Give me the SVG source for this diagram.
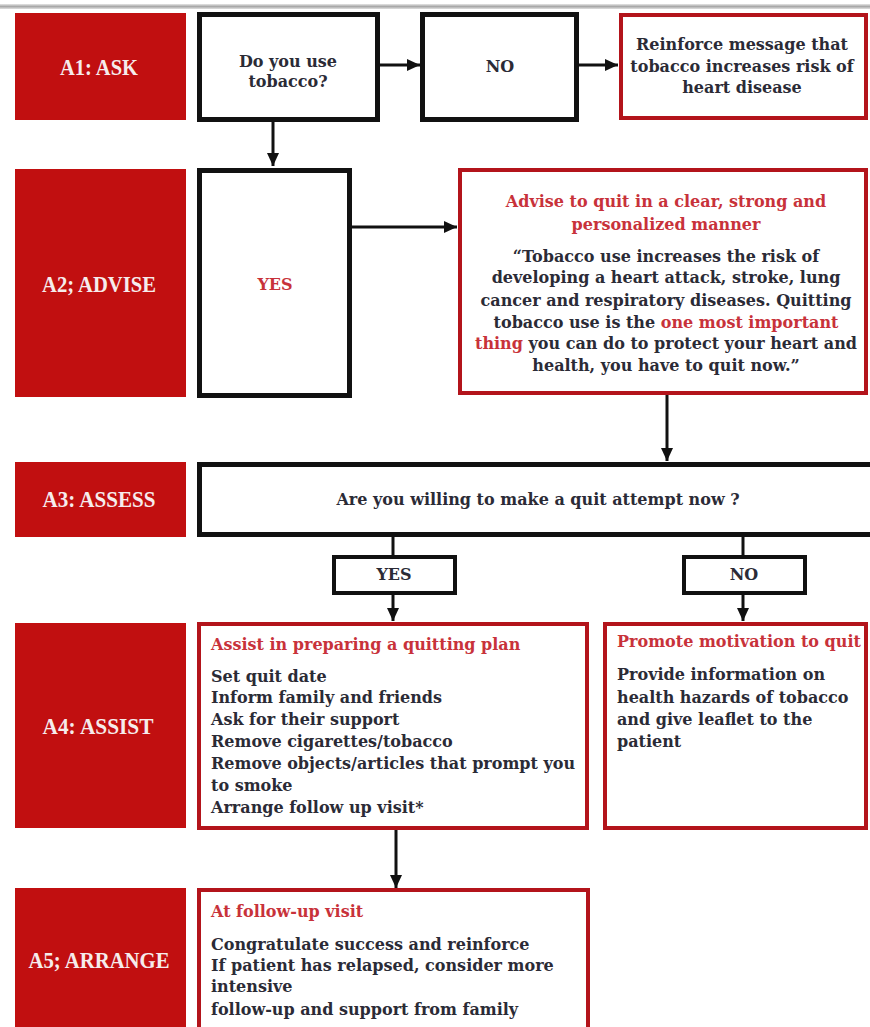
<svg xmlns="http://www.w3.org/2000/svg" width="870" height="1027" viewBox="0 0 870 1027">
<defs>
<marker id="ah" markerUnits="userSpaceOnUse" markerWidth="15" markerHeight="14" refX="13" refY="6" orient="auto">
<path d="M0,0 L13,6 L0,12 Z" fill="#111"/>
</marker>
<linearGradient id="topg" x1="0" y1="0" x2="0" y2="1">
<stop offset="0" stop-color="#e6e6e6"/>
<stop offset="0.5" stop-color="#a8a8a8"/>
<stop offset="1" stop-color="#e0e0e0"/>
</linearGradient>
</defs>
<style>
.lab{fill:#c10f10}
.labt{font-family:"Liberation Serif","DejaVu Serif",serif;font-weight:bold;font-size:24px;fill:#f6ecec;text-anchor:middle}
.bk{fill:#fff;stroke:#111;stroke-width:5}
.bks{fill:#fff;stroke:#111;stroke-width:4}
.rd{fill:#fff;stroke:#b3141b;stroke-width:4}
.t{font-family:"DejaVu Serif","Liberation Serif",serif;font-weight:bold;font-size:16px;fill:#2b2b36}
.c{text-anchor:middle}
.r{fill:#c8323a}
.con{stroke:#111;stroke-width:3;fill:none}
.arr{marker-end:url(#ah)}
</style>
<rect x="0" y="0" width="870" height="1027" fill="#fff"/>
<rect x="0" y="4" width="870" height="5" fill="url(#topg)"/>

<g id="connectors">
<line class="con arr" x1="380" y1="65" x2="420" y2="65"/>
<line class="con arr" x1="579" y1="65" x2="618" y2="65"/>
<line class="con arr" x1="273" y1="122" x2="273" y2="166"/>
<line class="con arr" x1="352" y1="227" x2="457" y2="227"/>
<line class="con arr" x1="667" y1="395" x2="667" y2="461"/>
<line class="con" x1="393" y1="537" x2="393" y2="556"/>
<line class="con" x1="743" y1="537" x2="743" y2="556"/>
<line class="con arr" x1="393" y1="595" x2="393" y2="621"/>
<line class="con arr" x1="743" y1="595" x2="743" y2="621"/>
<line class="con arr" x1="396" y1="830" x2="396" y2="888"/>
</g>

<g id="a1-ask"><rect class="lab" x="15" y="13" width="171" height="107"/><text class="labt" x="99" y="75" textLength="78" lengthAdjust="spacingAndGlyphs">A1: ASK</text></g>
<g id="a2-advise"><rect class="lab" x="15" y="169" width="171" height="228"/><text class="labt" x="99" y="292" textLength="114" lengthAdjust="spacingAndGlyphs">A2; ADVISE</text></g>
<g id="a3-assess"><rect class="lab" x="15" y="462" width="171" height="75"/><text class="labt" x="99" y="507" textLength="113" lengthAdjust="spacingAndGlyphs">A3: ASSESS</text></g>
<g id="a4-assist"><rect class="lab" x="15" y="623" width="171" height="205"/><text class="labt" x="98" y="734" textLength="111" lengthAdjust="spacingAndGlyphs">A4: ASSIST</text></g>
<g id="a5-arrange"><rect class="lab" x="15" y="888" width="171" height="140"/><text class="labt" x="99" y="968" textLength="141" lengthAdjust="spacingAndGlyphs">A5; ARRANGE</text></g>

<g id="q-tobacco"><rect class="bk" x="199.5" y="14.5" width="178" height="105"/>
<text class="t c" x="288" y="67">Do you use</text><text class="t c" x="288" y="87">tobacco?</text></g>

<g id="no1"><rect class="bk" x="422.5" y="14.5" width="154" height="105"/>
<text class="t c" x="500" y="72" font-size="14">NO</text></g>

<g id="reinforce"><rect class="rd" x="621" y="15" width="245" height="103"/>
<text class="t c" x="742" y="50" font-size="16.5">Reinforce message that</text>
<text class="t c" x="742" y="72" font-size="16.5">tobacco increases risk of</text>
<text class="t c" x="742" y="93" font-size="16.5">heart disease</text></g>

<g id="yes1"><rect class="bk" x="199.5" y="170.5" width="150" height="225"/>
<text class="t c r" x="275" y="290">YES</text></g>

<g id="advise-box"><rect class="rd" x="460" y="170" width="406" height="223"/>
<text class="t c r" x="666" y="207" font-size="16.8">Advise to quit in a clear, strong and</text>
<text class="t c r" x="666" y="230" font-size="16.8">personalized manner</text>
<text class="t c" x="666" y="262" font-size="16.8">“Tobacco use increases the risk of</text>
<text class="t c" x="666" y="283" font-size="16.8">developing a heart attack, stroke, lung</text>
<text class="t c" x="666" y="306" font-size="16.8">cancer and respiratory diseases. Quitting</text>
<text class="t c" x="666" y="328" font-size="16.8">tobacco use is the <tspan class="r">one most important</tspan></text>
<text class="t c" x="666" y="349" font-size="16.8"><tspan class="r">thing</tspan> you can do to protect your heart and</text>
<text class="t c" x="666" y="371" font-size="16.8">health, you have to quit now.”</text></g>

<g id="assess-box"><rect class="bk" x="199.5" y="464.5" width="690" height="70"/>
<text class="t c" x="538" y="505" font-size="16.3">Are you willing to make a quit attempt now ?</text></g>

<g id="yes2"><rect class="bks" x="334" y="557" width="121" height="36"/>
<text class="t c" x="394" y="580" font-size="14">YES</text></g>

<g id="no2"><rect class="bks" x="684" y="557" width="121" height="36"/>
<text class="t c" x="744" y="580" font-size="14">NO</text></g>

<g id="assist-box"><rect class="rd" x="199" y="624" width="388" height="204"/>
<text class="t r" x="211" y="650">Assist in preparing a quitting plan</text>
<text class="t" x="211" y="682">Set quit date</text>
<text class="t" x="211" y="703">Inform family and friends</text>
<text class="t" x="211" y="725">Ask for their support</text>
<text class="t" x="211" y="747">Remove cigarettes/tobacco</text>
<text class="t" x="211" y="769">Remove objects/articles that prompt you</text>
<text class="t" x="211" y="791">to smoke</text>
<text class="t" x="211" y="813">Arrange follow up visit*</text></g>

<g id="promote-box"><rect class="rd" x="605" y="624" width="261" height="204"/>
<text class="t r" x="617" y="647" font-size="15.5">Promote motivation to quit</text>
<text class="t" x="617" y="680">Provide information on</text>
<text class="t" x="617" y="703">health hazards of tobacco</text>
<text class="t" x="617" y="725">and give leaflet to the</text>
<text class="t" x="617" y="747">patient</text></g>

<g id="arrange-box"><rect class="rd" x="199" y="890" width="389" height="150"/>
<text class="t r" x="211" y="917">At follow-up visit</text>
<text class="t" x="211" y="950">Congratulate success and reinforce</text>
<text class="t" x="211" y="971">If patient has relapsed, consider more</text>
<text class="t" x="211" y="992">intensive</text>
<text class="t" x="211" y="1015">follow-up and support from family</text></g>
</svg>
